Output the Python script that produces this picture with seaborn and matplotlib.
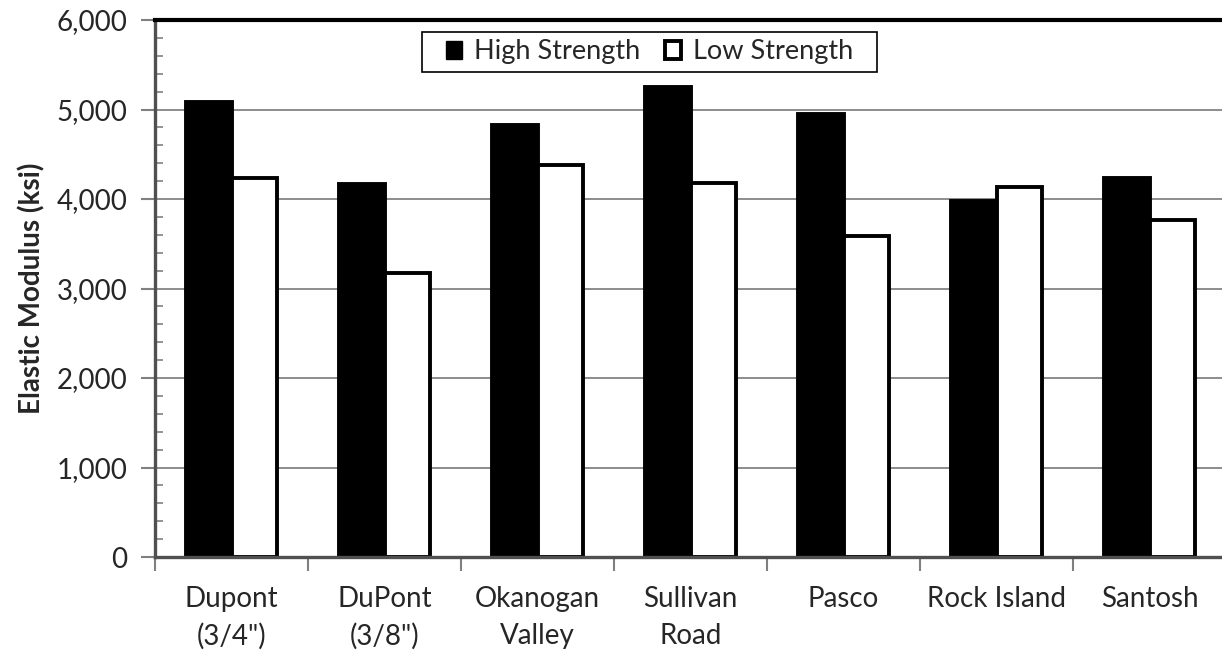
import numpy as np
import pandas as pd
import seaborn as sns
import matplotlib.pyplot as plt
from matplotlib.ticker import MultipleLocator, FuncFormatter, FixedLocator, NullFormatter
from matplotlib.patches import Patch, Rectangle

# Data
sources = ['Dupont\n(3/4")', 'DuPont\n(3/8")', 'Okanogan\nValley', 'Sullivan\nRoad',
           'Pasco', 'Rock Island', 'Santosh']
high_strength = [5080, 4170, 4830, 5250, 4950, 3980, 4230]
low_strength = [4240, 3170, 4380, 4180, 3590, 4130, 3760]

df = pd.DataFrame({
    'Source': sources * 2,
    'Modulus': high_strength + low_strength,
    'Strength': ['High Strength'] * len(sources) + ['Low Strength'] * len(sources),
})

sns.set_style('white')
plt.rcParams['font.family'] = ['Lato', 'DejaVu Sans']

W, H = 1222, 656
fig = plt.figure(figsize=(W / 100, H / 100), dpi=100)
ax = fig.add_axes([155 / W, 1 - 557 / H, 1071 / W, 537 / H])

sns.barplot(data=df, x='Source', y='Modulus', hue='Strength',
            palette={'High Strength': 'black', 'Low Strength': 'white'},
            edgecolor='black', linewidth=2.8, width=0.59, ax=ax, legend=False)

ax.set_ylim(0, 6000)
ax.set_xlim(-0.5, len(sources) - 0.5)
ax.grid(axis='y', which='major', color='#8c8c8c', linewidth=1.4)
ax.set_axisbelow(True)

# y ticks: majors outward, minors inward
ax.yaxis.set_major_locator(MultipleLocator(1000))
ax.yaxis.set_minor_locator(MultipleLocator(200))
ax.yaxis.set_major_formatter(FuncFormatter(lambda v, p: f'{int(v):,}'))

# category boundaries as major x ticks, labels on minor ticks
ax.xaxis.set_major_locator(FixedLocator(np.arange(-0.5, len(sources), 1.0)))
ax.xaxis.set_major_formatter(NullFormatter())
ax.xaxis.set_minor_locator(FixedLocator(np.arange(len(sources))))
ax.xaxis.set_minor_formatter(FuncFormatter(lambda v, p: sources[int(round(v))]))

ax.tick_params(axis='both', which='both', bottom=True, left=True)
ax.tick_params(axis='x', which='major', length=10, width=1.5, color='#808080', direction='out')
ax.tick_params(axis='x', which='minor', length=0, labelsize=20, pad=21)
ax.tick_params(axis='y', which='major', length=10, width=1.5, color='#808080',
               direction='out', labelsize=20, pad=10)
ax.tick_params(axis='y', which='minor', length=6, width=1.2, color='#808080', direction='in')
for lbl in ax.get_xticklabels(minor=True):
    lbl.set_linespacing(1.5)

ax.set_xlabel('')
ax.set_ylabel('Elastic Modulus (ksi)', fontsize=20, fontweight='bold', labelpad=8)

ax.spines['top'].set_color('black')
ax.spines['top'].set_linewidth(3)
ax.spines['right'].set_visible(False)
ax.spines['left'].set_color('#505050')
ax.spines['left'].set_linewidth(2.4)
ax.spines['bottom'].set_color('#505050')
ax.spines['bottom'].set_linewidth(2.4)

# legend box drawn separately so its side padding can match the reference
fig.patches.append(Rectangle((422 / W, 1 - 72 / H), 455 / W, 40 / H,
                             transform=fig.transFigure, facecolor='white',
                             edgecolor='black', linewidth=1.2, zorder=5))
handles = [Patch(facecolor='black', edgecolor='black', linewidth=1, label='High Strength'),
           Patch(facecolor='white', edgecolor='black', linewidth=2.8, label='Low Strength')]
leg = fig.legend(handles=handles, loc='center', bbox_to_anchor=(649.5 / W, 1 - 52 / H),
                 ncol=2, fontsize=19.5, frameon=False, borderpad=0,
                 handlelength=0.6, handleheight=0.6, handletextpad=0.45,
                 columnspacing=0.9)
leg.set_zorder(6)

fig.savefig('out.png', dpi=100)
